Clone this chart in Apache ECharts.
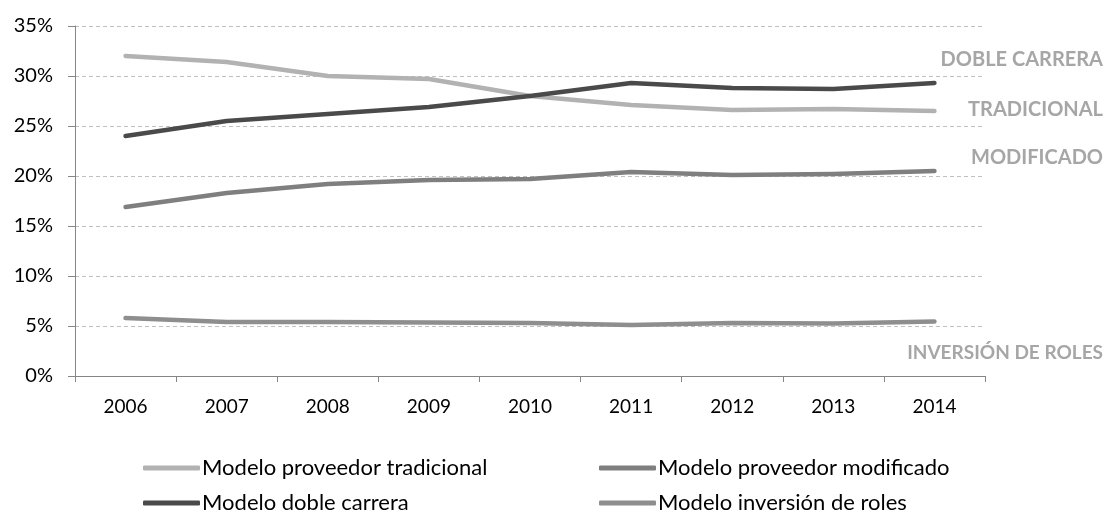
<!DOCTYPE html>
<html><head><meta charset="utf-8">
<script src="https://cdn.jsdelivr.net/npm/echarts@6/dist/echarts.min.js"></script>
<style>html,body{margin:0;padding:0;background:#fff}#c{width:1118px;height:518px}</style>
</head><body><div id="c"></div>
<script>
const years = ['2006','2007','2008','2009','2010','2011','2012','2013','2014'];
const tradicional = [32.0, 31.4, 30.0, 29.7, 28.0, 27.1, 26.6, 26.7, 26.5];
const dobleCarrera = [24.0, 25.5, 26.2, 26.9, 28.0, 29.3, 28.8, 28.7, 29.3];
const modificado = [16.9, 18.3, 19.2, 19.6, 19.7, 20.4, 20.1, 20.2, 20.5];
const inversion = [5.8, 5.4, 5.4, 5.35, 5.3, 5.1, 5.3, 5.25, 5.45];
const seriesNames = ['Modelo proveedor tradicional','Modelo proveedor modificado','Modelo doble carrera','Modelo inversión de roles'];
const sideLabels = ['DOBLE CARRERA','TRADICIONAL','MODIFICADO','INVERSIÓN DE ROLES'];
const sideLabelValues = [31.4, 26.4, 21.6, 2.1];

const font = 'Lato, "Open Sans", sans-serif';
const chart = echarts.init(document.getElementById('c'));
const axisColor = '#868686';
function line(name, data, color) {
  return {name, type:'line', data, symbol:'none', smooth:false,
    lineStyle:{color, width:4.5, cap:'round', join:'round'}, itemStyle:{color}};
}
const legendBase = {orient:'vertical', height:120, itemGap:13, icon:'roundRect', itemWidth:57, itemHeight:5,
  padding:0,
  textStyle:{fontSize:22, fontFamily:font, color:'#000', padding:[0,0,0,-3]}};
chart.setOption({
  animation:false,
  grid:{left:75, right:133, top:26, bottom:142},
  xAxis:{type:'category', data:years, boundaryGap:true,
    axisLine:{lineStyle:{color:axisColor, width:1}},
    axisTick:{show:true, length:6, lineStyle:{color:axisColor}},
    axisLabel:{color:'#000', fontSize:19, fontFamily:font, margin:21}},
  yAxis:{type:'value', min:0, max:35, interval:5,
    axisLine:{show:true, lineStyle:{color:axisColor}},
    axisTick:{show:true, length:7, lineStyle:{color:axisColor}},
    axisLabel:{formatter:'{value}%', color:'#000', fontSize:20, fontFamily:font, margin:22},
    splitLine:{show:true, lineStyle:{color:'#c0c0c0', type:[4,3], width:1}}},
  legend:[
    Object.assign({left:143, top:457, data:[seriesNames[0], seriesNames[2]]}, legendBase),
    Object.assign({left:599, top:457, data:[seriesNames[1], seriesNames[3]]}, legendBase)
  ],
  series:[
    line(seriesNames[0], tradicional, '#b2b2b2'),
    line(seriesNames[1], modificado, '#7f7f7f'),
    line(seriesNames[2], dobleCarrera, '#4a4a4a'),
    line(seriesNames[3], inversion, '#8e8e8e')
  ]
});
const yPix = sideLabelValues.map(v => chart.convertToPixel({yAxisIndex:0}, v));
chart.setOption({graphic: sideLabels.map((t,i)=>({type:'text', right:15, top:yPix[i]-12,
  style:{text:t, fill:'#a6a6a6', font:'bold ' + (i === 3 ? 19 : 20) + 'px ' + font}}))});
</script></body></html>
